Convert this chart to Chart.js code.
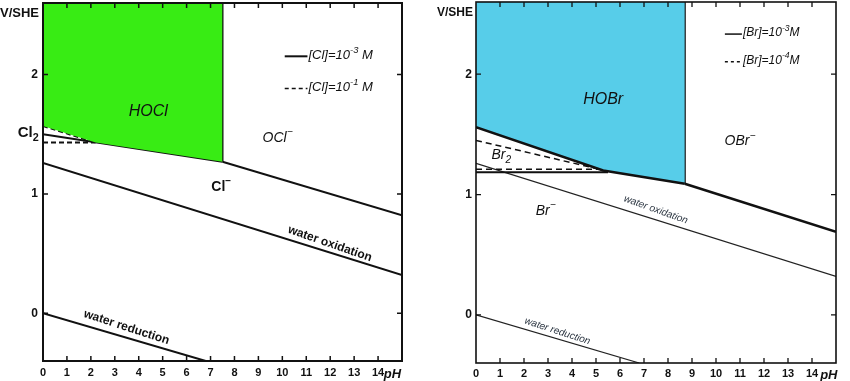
<!DOCTYPE html>
<html><head><meta charset="utf-8">
<script src="https://cdn.jsdelivr.net/npm/chart.js@4.4.1/dist/chart.umd.min.js"></script>
<style>
html,body{margin:0;padding:0;background:#fff;}
#wrap{position:relative;width:850px;height:381px;overflow:hidden;}
#c1{position:absolute;left:0;top:0;}
#c2{position:absolute;left:420px;top:0;}
</style></head><body>
<div id="wrap"><canvas id="c1" width="420" height="381"></canvas><canvas id="c2" width="430" height="381"></canvas></div>
<script>
// ---------- data ----------
const pHTicks = [0,1,2,3,4,5,6,7,8,9,10,11,12,13,14];
const vTicks = [0,1,2];

// Chlorine diagram (pH, V/SHE)
const clHOClEdge   = [{x:0,y:1.57},{x:2.2,y:1.43},{x:7.5,y:1.27}];      // green region lower edge
const clDashHOCl   = [{x:0,y:1.57},{x:2.2,y:1.43}];                      // HOCl/Cl2, 10^-1 M
const clDashCl2    = [{x:0,y:1.43},{x:2.2,y:1.43}];                      // Cl2/Cl-, 10^-1 M
const clSolidHOCl  = [{x:0,y:1.50},{x:7.5,y:1.27}];                      // HOCl/Cl-, 10^-3 M
const clVertical   = [{x:7.5,y:1.27},{x:7.5,y:2.6}];                     // HOCl/OCl-
const clOCl        = [{x:7.5,y:1.27},{x:15,y:0.82}];                     // OCl-/Cl-
const clWaterOx    = [{x:0,y:1.26},{x:15,y:0.32}];
const clWaterRed   = [{x:0,y:0},{x:6.8,y:-0.4}];

// Bromine diagram
const brHOBrEdge   = [{x:0,y:1.56},{x:5.3,y:1.20},{x:8.7,y:1.09}];      // blue region lower edge, 10^-3 M
const brDashHOBr   = [{x:0,y:1.45},{x:5.15,y:1.21}];                     // HOBr/Br2, 10^-4 M
const brDashBr2    = [{x:0,y:1.21},{x:5.15,y:1.21}];                     // Br2/Br-, 10^-4 M
const brSolidBr2   = [{x:0,y:1.185},{x:5.5,y:1.185}];                    // Br2/Br-, 10^-3 M
const brVertical   = [{x:8.7,y:1.09},{x:8.7,y:2.6}];                     // HOBr/OBr-
const brOBr        = [{x:8.7,y:1.09},{x:15,y:0.69}];                     // OBr-/Br-
const brWaterOx    = [{x:0,y:1.26},{x:15,y:0.32}];
const brWaterRed   = [{x:0,y:0},{x:6.8,y:-0.4}];

// ---------- drawing helpers ----------
const FAMILY = '"Liberation Sans", Arial, sans-serif';
function fontStr(f, k){ return `${f.style||'normal'} ${f.weight||'normal'} ${(f.size*(k||1)).toFixed(1)}px ${FAMILY}`; }
function drawRich(ctx, segs, x, y, f, align, angle, color){
  ctx.save();
  ctx.translate(x,y); ctx.rotate(angle||0);
  ctx.fillStyle = color||'#111';
  ctx.textBaseline = 'alphabetic';
  const widths = segs.map(s=>{ ctx.font = fontStr(f,(s.sup||s.sub)?0.72:1); return ctx.measureText(s.t).width; });
  const total = widths.reduce((a,b)=>a+b,0);
  let cx = align==='left'?0:(align==='right'?-total:-total/2);
  const base = f.size*0.36;
  segs.forEach((s,i)=>{
    ctx.font = fontStr(f,(s.sup||s.sub)?0.72:1);
    let dy = base;
    if(s.sup) dy = base - f.size*0.48;
    if(s.sub) dy = base + f.size*0.28;
    ctx.fillText(s.t, cx, dy);
    cx += widths[i];
  });
  ctx.restore();
  return total;
}

const decor = {
  id:'decor',
  afterDatasetsDraw(chart, args, o){
    const {ctx, chartArea:a, scales:{x,y}} = chart;
    ctx.save();
    ctx.strokeStyle='#111';
    ctx.lineWidth=o.frameWidth;
    ctx.strokeRect(a.left,a.top,a.right-a.left,a.bottom-a.top);
    ctx.lineWidth=o.tickWidth;
    ctx.beginPath();
    pHTicks.forEach(v=>{ if(v===0) return; const px=x.getPixelForValue(v);
      ctx.moveTo(px,a.bottom); ctx.lineTo(px,a.bottom-o.tickLen);
      ctx.moveTo(px,a.top); ctx.lineTo(px,a.top+o.tickLen); });
    vTicks.forEach(v=>{ const py=y.getPixelForValue(v);
      ctx.moveTo(a.left,py); ctx.lineTo(a.left+o.tickLen,py);
      ctx.moveTo(a.right,py); ctx.lineTo(a.right-o.tickLen,py); });
    ctx.stroke();
    // y axis title
    drawRich(ctx,[{t:'V/SHE'}], o.titleX, o.titleY, {weight:'bold',size:o.titleSize}, 'left', 0);
    // pH label
    drawRich(ctx,[{t:'pH'}], x.getPixelForValue(o.pHAt), a.bottom+o.pHDy, {style:'italic',weight:'bold',size:13}, 'center', 0);
    // text labels
    o.labels.forEach(L=>{
      let ang = 0;
      if(L.along){
        const p0=L.along[0], p1=L.along[L.along.length-1];
        ang = Math.atan2(y.getPixelForValue(p1.y)-y.getPixelForValue(p0.y), x.getPixelForValue(p1.x)-x.getPixelForValue(p0.x)) + (L.extraAngle||0);
      }
      drawRich(ctx, L.segs, x.getPixelForValue(L.x), y.getPixelForValue(L.y), L.font, L.align||'center', ang, L.color);
    });
    // legend
    o.legend.forEach(R=>{
      const px0=x.getPixelForValue(R.x0), px1=x.getPixelForValue(R.x1), py=y.getPixelForValue(R.y);
      ctx.save();
      ctx.lineWidth=R.lw; ctx.strokeStyle='#111'; ctx.setLineDash(R.dash||[]);
      ctx.beginPath(); ctx.moveTo(px0,py+2); ctx.lineTo(px1,py+2); ctx.stroke();
      ctx.restore();
      drawRich(ctx, R.segs, px1+1, py, R.font, 'left', 0);
    });
    ctx.restore();
  }
};

function line(data, opt){
  return Object.assign({data, borderColor:'#111', borderWidth:2, pointRadius:0, fill:false, tension:0}, opt||{});
}

function makeChart(id, datasets, cfg){
  return new Chart(document.getElementById(id), {
    type:'line',
    data:{datasets},
    options:{
      responsive:false, animation:false, devicePixelRatio:1,
      layout:{padding:cfg.padding},
      plugins:{legend:{display:false}, tooltip:{enabled:false}, decor:cfg.decor},
      scales:{
        x:{type:'linear', min:0, max:15, grid:{display:false, drawTicks:false}, border:{display:false},
           ticks:{stepSize:1, autoSkip:false, maxRotation:0, padding:cfg.xPad, color:'#111',
                  font:{family:FAMILY, weight:'bold', size:11},
                  callback:v=> (pHTicks.includes(v)? String(v):'')},
           afterBuildTicks:s=>{ s.ticks = pHTicks.map(v=>({value:v})); },
           afterFit:s=>{ s.height=cfg.xH; s.paddingLeft=0; s.paddingRight=0; }},
        y:{type:'linear', min:-0.4, max:2.6, grid:{display:false, drawTicks:false}, border:{display:false},
           ticks:{padding:cfg.yPad, color:'#111', font:{family:FAMILY, weight:'bold', size:12}},
           afterBuildTicks:s=>{ s.ticks = vTicks.map(v=>({value:v})); },
           afterFit:s=>{ s.width=cfg.yW; s.paddingTop=0; s.paddingBottom=0; }}
      }
    },
    plugins:[decor]
  });
}

const GREEN = '#38ec14';
const BLUE  = '#57cde9';

makeChart('c1', [
  line(clHOClEdge,{borderWidth:0, fill:'end', backgroundColor:GREEN}),
  line(clDashHOCl,{borderDash:[5,3]}),
  line(clDashCl2,{borderDash:[5,3]}),
  line(clSolidHOCl),
  line(clVertical),
  line(clOCl),
  line(clWaterOx),
  line(clWaterRed)
], {
  padding:{left:0,right:18,top:3,bottom:0}, xH:20, yW:43, xPad:5, yPad:5,
  decor:{frameWidth:2, tickWidth:1.5, tickLen:5, titleX:0, titleY:12, titleSize:13, pHAt:14.6, pHDy:12,
    labels:[
      {segs:[{t:'HOCl'}], x:4.4, y:1.70, font:{style:'italic',size:16}},
      {segs:[{t:'Cl'},{t:'2',sub:true}], x:-0.62, y:1.52, font:{weight:'bold',size:15}},
      {segs:[{t:'OCl'},{t:'−',sup:true}], x:9.8, y:1.48, font:{style:'italic',size:14}},
      {segs:[{t:'Cl'},{t:'−',sup:true}], x:7.45, y:1.07, font:{weight:'bold',size:14}},
      {segs:[{t:'water oxidation'}], x:12.0, y:0.59, font:{weight:'bold',size:12}, along:clWaterOx, extraAngle:0.03},
      {segs:[{t:'water reduction'}], x:3.5, y:-0.11, font:{weight:'bold',size:12}, along:clWaterRed, extraAngle:0.03}
    ],
    legend:[
      {x0:10.1, x1:11.05, y:2.17, lw:2, segs:[{t:'[Cl]=10'},{t:'-3',sup:true},{t:' M'}], font:{style:'italic',size:13}},
      {x0:10.1, x1:11.05, y:1.90, lw:1.5, dash:[4,3], segs:[{t:'[Cl]=10'},{t:'-1',sup:true},{t:' M'}], font:{style:'italic',size:13}}
    ]}
});

makeChart('c2', [
  line(brHOBrEdge,{borderWidth:2.5, fill:'end', backgroundColor:BLUE}),
  line(brDashHOBr,{borderWidth:1.5, borderDash:[6,4]}),
  line(brDashBr2,{borderWidth:1.5, borderDash:[6,4]}),
  line(brSolidBr2,{borderWidth:2}),
  line(brVertical,{borderWidth:2}),
  line(brOBr,{borderWidth:2.5}),
  line(brWaterOx,{borderWidth:1.2, borderColor:'#222'}),
  line(brWaterRed,{borderWidth:1.2, borderColor:'#222'})
], {
  padding:{left:0,right:14,top:2,bottom:0}, xH:18, yW:56, xPad:4, yPad:4,
  decor:{frameWidth:1.6, tickWidth:1.3, tickLen:5, titleX:17, titleY:12, titleSize:12, pHAt:14.7, pHDy:11,
    labels:[
      {segs:[{t:'HOBr'}], x:5.3, y:1.80, font:{style:'italic',size:16}},
      {segs:[{t:'OBr'},{t:'−',sup:true}], x:11.0, y:1.45, font:{style:'italic',size:14}},
      {segs:[{t:'Br'},{t:'2',sub:true}], x:1.05, y:1.34, font:{style:'italic',size:14}},
      {segs:[{t:'Br'},{t:'−',sup:true}], x:2.9, y:0.87, font:{style:'italic',size:14}},
      {segs:[{t:'water oxidation'}], x:7.5, y:0.88, font:{style:'italic',size:10}, color:'#2a3440', along:brWaterOx, extraAngle:0.04},
      {segs:[{t:'water reduction'}], x:3.4, y:-0.13, font:{style:'italic',size:10}, color:'#2a3440', along:brWaterRed, extraAngle:0.03}
    ],
    legend:[
      {x0:10.37, x1:11.08, y:2.35, lw:1.5, segs:[{t:'[Br]=10'},{t:'-3',sup:true},{t:'M'}], font:{style:'italic',size:12}},
      {x0:10.37, x1:11.08, y:2.12, lw:1.3, dash:[3,3], segs:[{t:'[Br]=10'},{t:'-4',sup:true},{t:'M'}], font:{style:'italic',size:12}}
    ]}
});
</script>
</body></html>
